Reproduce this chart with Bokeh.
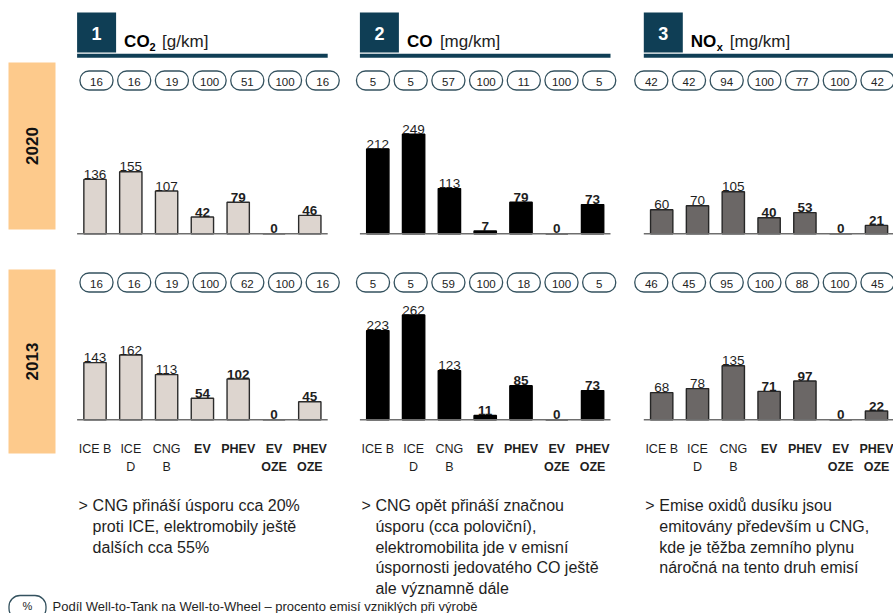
import math

from bokeh.core.properties import value
from bokeh.embed import file_html
from bokeh.models import ColumnDataSource, Range1d
from bokeh.plotting import figure
from bokeh.resources import INLINE

# ---------------------------------------------------------------- data
categories = ["ICE B", "ICE D", "CNG B", "EV", "PHEV", "EV OZE", "PHEV OZE"]
tick_line1 = ["ICE B", "ICE", "CNG", "EV", "PHEV", "EV", "PHEV"]
tick_line2 = ["", "D", "B", "", "", "OZE", "OZE"]
bold_flags = [False, False, False, True, True, True, True]

years = ["2020", "2013"]

# emissions, Well-to-Wheel
co2_2020 = [136, 155, 107, 42, 79, 0, 46]
co2_2013 = [143, 162, 113, 54, 102, 0, 45]
co_2020 = [212, 249, 113, 7, 79, 0, 73]
co_2013 = [223, 262, 123, 11, 85, 0, 73]
nox_2020 = [60, 70, 105, 40, 53, 0, 21]
nox_2013 = [68, 78, 135, 71, 97, 0, 22]

# share of Well-to-Tank in Well-to-Wheel [%]
wtt_co2_2020 = [16, 16, 19, 100, 51, 100, 16]
wtt_co2_2013 = [16, 16, 19, 100, 62, 100, 16]
wtt_co_2020 = [5, 5, 57, 100, 11, 100, 5]
wtt_co_2013 = [5, 5, 59, 100, 18, 100, 5]
wtt_nox_2020 = [42, 42, 94, 100, 77, 100, 42]
wtt_nox_2013 = [46, 45, 95, 100, 88, 100, 45]

panel_numbers = ["1", "2", "3"]
panel_titles = [("CO", "2", "[g/km]"), ("CO", "", "[mg/km]"), ("NO", "x", "[mg/km]")]

values = {
    "2020": [co2_2020, co_2020, nox_2020],
    "2013": [co2_2013, co_2013, nox_2013],
}
shares = {
    "2020": [wtt_co2_2020, wtt_co_2020, wtt_nox_2020],
    "2013": [wtt_co2_2013, wtt_co_2013, wtt_nox_2013],
}

notes = [
    ["CNG přináší úsporu cca 20%",
     "proti ICE, elektromobily ještě",
     "dalších cca 55%"],
    ["CNG opět přináší značnou",
     "úsporu (cca poloviční),",
     "elektromobilita jde v emisní",
     "úspornosti jedovatého CO ještě",
     "ale významně dále"],
    ["Emise oxidů dusíku jsou",
     "emitovány především u CNG,",
     "kde je těžba zemního plynu",
     "náročná na tento druh emisí"],
]
footnote = "Podíl Well-to-Tank na Well-to-Wheel – procento emisí vzniklých při výrobě"

# ---------------------------------------------------------------- styling / layout
W, H = 893, 613
FONT = value("Liberation Sans")
NAVY = "#0f3e55"
ORANGE = "#fdca8c"
TEXT = "#1e1e1e"

bar_fill = ["#ddd5cf", "#000000", "#6b6766"]
bar_line = ["#2b2b2b", "#000000", "#262626"]

bar_x0 = [94.5, 377.3, 661.2]      # centre of first bar in each panel
BAR_STEP = 35.8
BAR_W = 0.623
pill_x0 = [96.0, 372.5, 650.8]
PILL_STEP = 37.7
PX_PER_UNIT = 0.40                 # same vertical scale in all panels
row_base = {"2020": 233.3, "2013": 419.3}
row_pill_y = {"2020": 80.0, "2013": 282.0}
year_box = {"2020": (62.0, 229.0), "2013": (269.0, 453.0)}

p = figure(
    width=W, height=H,
    x_range=Range1d(0, W), y_range=Range1d(H, 0),
    output_backend="svg", toolbar_location=None,
    x_axis_location=None, y_axis_location=None,
    min_border=0, outline_line_color=None,
    background_fill_color="white", border_fill_color="white",
)
p.xgrid.visible = False
p.ygrid.visible = False

# one horizontal scale per panel for bars and for the share pills
for k in range(3):
    p.extra_x_ranges[f"bar{k}"] = Range1d(-bar_x0[k] / BAR_STEP, (W - bar_x0[k]) / BAR_STEP)
    p.extra_x_ranges[f"pill{k}"] = Range1d(-pill_x0[k] / PILL_STEP, (W - pill_x0[k]) / PILL_STEP)
# one value scale per year row, zero on the row baseline
for yr in years:
    b = row_base[yr]
    p.extra_y_ranges[f"row{yr}"] = Range1d((b - H) / PX_PER_UNIT, b / PX_PER_UNIT)

idx = list(range(len(categories)))

# ---------------------------------------------------------------- year tabs
for yr in years:
    top, bottom = year_box[yr]
    p.quad(left=8, right=55, top=top, bottom=bottom, fill_color=ORANGE, line_color=None)
    p.text(x=[31.5], y=[(top + bottom) / 2], text=[yr], angle=math.pi / 2,
           text_font=FONT, text_font_size="17px", text_font_style="bold",
           text_color="#111111", text_align="center", text_baseline="middle")

# ---------------------------------------------------------------- panel headers
for k in range(3):
    left = bar_x0[k] - 0.5 * BAR_STEP
    right = bar_x0[k] + 6.5 * BAR_STEP
    p.quad(left=left, right=left + 39, top=12, bottom=52, fill_color=NAVY, line_color=None)
    p.quad(left=left, right=right, top=53.3, bottom=57.3, fill_color=NAVY, line_color=None)
    p.text(x=[left + 19.5], y=[33], text=[panel_numbers[k]], text_font=FONT,
           text_font_size="18px", text_font_style="bold", text_color="white",
           text_align="center", text_baseline="middle")
    main, sub, unit = panel_titles[k]
    p.text(x=[left + 47], y=[40.7], text=[main], text_font=FONT, text_font_size="17px",
           text_font_style="bold", text_color="#000000", text_baseline="alphabetic")
    sub_dx = [72.5, 0, 73][k]
    unit_dx = [85, 80, 86][k]
    if sub:
        p.text(x=[left + sub_dx], y=[46.2], text=[sub], text_font=FONT, text_font_size="11px",
               text_font_style="bold", text_color="#000000", text_baseline="alphabetic")
    p.text(x=[left + unit_dx], y=[40.7], text=[unit], text_font=FONT, text_font_size="17px",
           text_color="#222222", text_baseline="alphabetic")

# ---------------------------------------------------------------- bars, values and share pills
for yr in years:
    for k in range(3):
        xr, pr, yrn = f"bar{k}", f"pill{k}", f"row{yr}"
        vals = values[yr][k]
        src = ColumnDataSource(dict(x=idx, top=vals))
        p.vbar(x="x", top="top", bottom=0, width=BAR_W, source=src,
               fill_color=bar_fill[k], line_color=bar_line[k], line_width=1.4,
               x_range_name=xr, y_range_name=yrn)
        p.segment(x0=[-0.5], x1=[6.5], y0=[0], y1=[0], line_color="#6e6e6e",
                  line_width=1.6, x_range_name=xr, y_range_name=yrn)
        for bold in (False, True):
            sel = [i for i in idx if bold_flags[i] == bold]
            lsrc = ColumnDataSource(dict(x=sel, y=[vals[i] for i in sel],
                                         label=[str(vals[i]) for i in sel]))
            p.text(x="x", y="y", text="label", source=lsrc, y_offset=-5,
                   text_font=FONT, text_font_size="13.5px",
                   text_font_style="bold" if bold else "normal",
                   text_color=TEXT, text_align="center", text_baseline="alphabetic",
                   x_range_name=xr, y_range_name=yrn)

        sh = shares[yr][k]
        py = row_pill_y[yr]
        psrc = ColumnDataSource(dict(x=idx, y=[py] * len(idx), label=[str(s) for s in sh]))
        p.rect(x="x", y="y", width=0.875, height=19, source=psrc, border_radius=9,
               fill_color="white", line_color="#34525f", line_width=1.3,
               x_range_name=pr)
        p.text(x="x", y="y", text="label", source=psrc, text_font=FONT,
               text_font_size="11.5px", text_color="#222222", text_align="center",
               text_baseline="middle", y_offset=1, x_range_name=pr)

# ---------------------------------------------------------------- category labels
for k in range(3):
    for bold in (False, True):
        sel = [i for i in idx if bold_flags[i] == bold]
        for line, yy in ((tick_line1, 448.3), (tick_line2, 466.3)):
            tsrc = ColumnDataSource(dict(x=sel, y=[yy] * len(sel), label=[line[i] for i in sel]))
            p.text(x="x", y="y", text="label", source=tsrc, text_font=FONT,
                   text_font_size="12.5px", text_font_style="bold" if bold else "normal",
                   text_color=TEXT, text_align="center", text_baseline="alphabetic",
                   x_range_name=f"bar{k}")

# ---------------------------------------------------------------- comments under panels
for k in range(3):
    left = bar_x0[k] - 0.5 * BAR_STEP
    lines = notes[k]
    ys = [505.0 + 20.8 * j for j in range(len(lines))]
    p.text(x=[left + 1.5], y=[ys[0]], text=[">"], text_font=FONT, text_font_size="16px",
           text_color=TEXT, text_baseline="alphabetic")
    p.text(x=[left + 15.5] * len(lines), y=ys, text=lines, text_font=FONT,
           text_font_size="16px", text_color=TEXT, text_baseline="alphabetic")

# ---------------------------------------------------------------- footnote
p.rect(x=[27], y=[607], width=37, height=24, border_radius=11, fill_color="white",
       line_color="#34525f", line_width=1.3)
p.text(x=[27], y=[605], text=["%"], text_font=FONT, text_font_size="11px",
       text_color=TEXT, text_align="center", text_baseline="middle")
p.text(x=[52], y=[606], text=[footnote], text_font=FONT, text_font_size="13px",
       text_color=TEXT, text_baseline="alphabetic")

open("out.html", "w").write(file_html(p, INLINE))
